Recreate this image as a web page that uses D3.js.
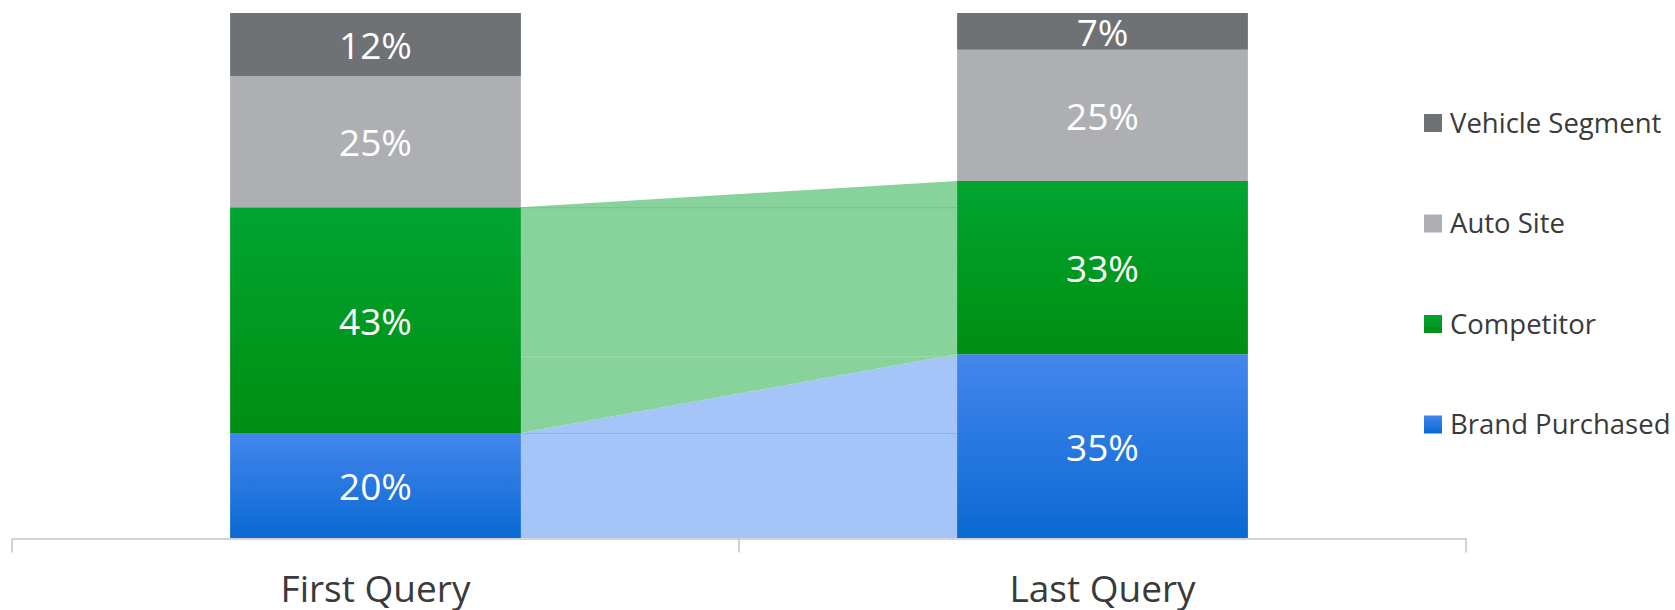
<!DOCTYPE html>
<html>
<head>
<meta charset="utf-8">
<script src="https://cdn.jsdelivr.net/npm/d3@7"></script>
<style>
html,body{margin:0;padding:0;background:#fff;}
svg{display:block;font-family:"Open Sans",sans-serif;}
</style>
</head>
<body>
<svg id="chart" width="1675" height="610"></svg>
<script>
const categories = ["First Query", "Last Query"];
const seriesNames = ["Brand Purchased", "Competitor", "Auto Site", "Vehicle Segment"];
const brandPurchased = [20, 35];
const competitor = [43, 33];
const autoSite = [25, 25];
const vehicleSegment = [12, 7];
const flowSeries = ["Brand Purchased", "Competitor"];

const colors = {
  "Brand Purchased": ["#4486ed", "#0a69d2"],
  "Competitor": ["#00a532", "#008e12"],
  "Auto Site": ["#aeafb2", "#aeafb2"],
  "Vehicle Segment": ["#6f7275", "#6f7275"]
};
const flowColors = {"Brand Purchased": "#a5c4f7", "Competitor": "#88d39c"};
const flowLines = {"Brand Purchased": "#90b2ea", "Competitor": "#6cc886"};

const rows = categories.map((c, i) => ({
  cat: c,
  "Brand Purchased": brandPurchased[i],
  "Competitor": competitor[i],
  "Auto Site": autoSite[i],
  "Vehicle Segment": vehicleSegment[i]
}));

const svg = d3.select("#chart");
const defs = svg.append("defs");
seriesNames.forEach((s, i) => {
  const g = defs.append("linearGradient").attr("id", "grad" + i)
    .attr("x1", 0).attr("y1", 0).attr("x2", 0).attr("y2", 1);
  g.append("stop").attr("offset", "0%").attr("stop-color", colors[s][0]);
  g.append("stop").attr("offset", "100%").attr("stop-color", colors[s][1]);
});

const x = d3.scaleBand().domain(categories).range([12, 1466]).padding(0);
const y = d3.scaleLinear().domain([0, 100]).range([538, 13]);
const bw = x.bandwidth();
const barX = c => x(c) + bw * 0.3;
const barW = bw * 0.4;

const stacked = d3.stack().keys(seriesNames)(rows);

// flows
const flowG = svg.append("g");
stacked.forEach(layer => {
  const s = layer.key;
  if (!flowSeries.includes(s)) return;
  const a = layer[0], b = layer[1];
  const x0 = barX(categories[0]) + barW, x1 = barX(categories[1]);
  const pts = [[x0, y(a[1])], [x1, y(b[1])], [x1, y(b[0])], [x0, y(a[0])]];
  flowG.append("path").attr("d", d3.line()(pts) + "Z").attr("fill", flowColors[s]);
});
// faint seam lines across flows
stacked.forEach(layer => {
  const s = layer.key;
  if (!flowSeries.includes(s)) return;
  const a = layer[0], b = layer[1];
  const x0 = barX(categories[0]) + barW, x1 = barX(categories[1]);
  if (s === "Competitor") {
    flowG.append("line").attr("x1", x0).attr("x2", x1)
      .attr("y1", y(a[1]) + 0.5).attr("y2", y(a[1]) + 0.5)
      .attr("stroke", flowLines[s]).attr("stroke-width", 1);
    flowG.append("line").attr("x1", x0).attr("x2", x1)
      .attr("y1", y(b[0]) + 2.5).attr("y2", y(b[0]) + 2.5)
      .attr("stroke", "#9cdcae").attr("stroke-width", 1);
  } else {
    flowG.append("line").attr("x1", x0).attr("x2", x1)
      .attr("y1", y(a[1]) + 0.5).attr("y2", y(a[1]) + 0.5)
      .attr("stroke", flowLines[s]).attr("stroke-width", 1);
  }
});

// bars
const barG = svg.append("g");
stacked.forEach((layer, li) => {
  layer.forEach((d, i) => {
    const c = categories[i];
    barG.append("rect")
      .attr("x", barX(c)).attr("width", barW)
      .attr("y", y(d[1])).attr("height", y(d[0]) - y(d[1]))
      .attr("fill", "url(#grad" + li + ")");
    barG.append("text")
      .attr("x", barX(c) + barW / 2)
      .attr("y", (y(d[0]) + y(d[1])) / 2)
      .attr("dy", "0.4em")
      .attr("text-anchor", "middle")
      .attr("fill", "#ffffff")
      .attr("font-size", 37)
      .text((d[1] - d[0]) + "%");
  });
});

// axis
const axisY = 538.5;
const axisG = svg.append("g").attr("transform", `translate(0,${axisY})`);
axisG.call(d3.axisBottom(x).tickSize(0).tickPadding(0))
  .call(g => g.select(".domain").attr("stroke", "#c4c4c4").attr("stroke-width", 1.5))
  .call(g => g.selectAll(".tick text")
    .attr("y", 63).attr("dy", 0)
    .attr("font-family", "'Open Sans', sans-serif")
    .attr("font-size", 37).attr("fill", "#3a3a3a"));
const boundaries = categories.map(c => x(c)).concat([x(categories[categories.length - 1]) + bw]);
axisG.selectAll("line.bound").data(boundaries).enter().append("line")
  .attr("class", "bound")
  .attr("x1", d => d).attr("x2", d => d)
  .attr("y1", 0).attr("y2", 14)
  .attr("stroke", "#c4c4c4").attr("stroke-width", 1.5);

// legend
const legendOrder = ["Vehicle Segment", "Auto Site", "Competitor", "Brand Purchased"];
const legG = svg.append("g");
legendOrder.forEach((s, i) => {
  const gi = seriesNames.indexOf(s);
  const yy = 114 + i * 100.5;
  legG.append("rect").attr("x", 1424).attr("y", yy).attr("width", 18).attr("height", 18)
    .attr("fill", "url(#grad" + gi + ")");
  legG.append("text").attr("x", 1450).attr("y", yy + 18.5)
    .attr("font-size", 27.5).attr("fill", "#3a3a3a").text(s);
});
</script>
</body>
</html>
